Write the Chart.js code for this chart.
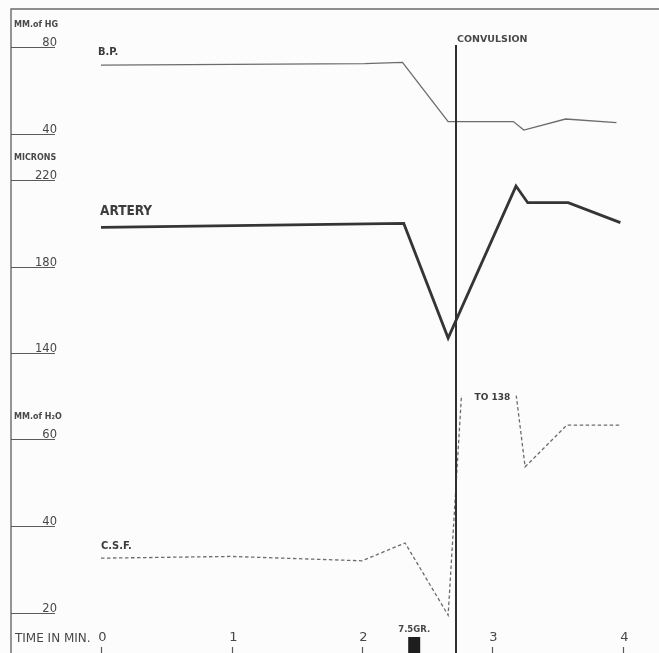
<!DOCTYPE html>
<html>
<head>
<meta charset="utf-8">
<script src="https://cdn.jsdelivr.net/npm/chart.js@4.4.1/dist/chart.umd.min.js"></script>
<style>
  html, body { margin: 0; padding: 0; background: #fcfcfc; }
  canvas { display: block; }
</style>
</head>
<body>
<canvas id="chart" width="659" height="653"></canvas>
<script>
// Blood pressure, mm Hg, against time in minutes
const bpTimes  = [0, 2.02, 2.31, 2.66, 3.16, 3.24, 3.56, 3.95];
const bpValues = [71.7, 72.4, 72.9, 45.7, 45.7, 41.8, 46.9, 45.2];

// Artery diameter, microns
const arteryTimes  = [0, 2.32, 2.66, 3.18, 3.27, 3.58, 3.98];
const arteryValues = [198.1, 199.9, 146.9, 217.2, 209.5, 209.5, 200.3];

// Cerebrospinal fluid pressure, mm H2O
const csfTimes  = [0, 1.0, 2.0, 2.33, 2.66, 2.9, 3.25, 3.57, 3.99];
const csfValues = [32.6, 33.0, 32.0, 36.1, 19.5, 138, 53.6, 63.2, 63.2];

// Scale marks
const bpTicks     = [80, 40];
const micronTicks = [220, 180, 140];
const csfTicks    = [60, 40, 20];
const timeTicks   = [0, 1, 2, 3, 4];

// CSF trace is cut off above this value
const csfDisplayMax = 70;

// Events
const convulsionTime = 2.72;
const doseTime = 2.40;
const doseLabel = '7.5GR.';

const ink = '#484848';
const plain = '"DejaVu Sans", sans-serif';
const narrow = '"DejaVu Sans Condensed", "DejaVu Sans", sans-serif';

const toPoints = (xs, ys) => xs.map((x, i) => ({ x, y: ys[i] }));

const decorations = {
  id: 'decorations',
  beforeDraw(chart) {
    const { ctx, width, height } = chart;
    ctx.save();
    ctx.fillStyle = '#fcfcfc';
    ctx.fillRect(0, 0, width, height);
    ctx.restore();
  },
  beforeDatasetDraw(chart, args) {
    if (args.meta.yAxisID !== 'yCsf') return;
    const { ctx, chartArea: a } = chart;
    const top = chart.scales.yCsf.getPixelForValue(csfDisplayMax);
    ctx.save();
    ctx.beginPath();
    ctx.rect(a.left, top, a.right - a.left, a.bottom - top);
    ctx.clip();
  },
  afterDatasetDraw(chart, args) {
    if (args.meta.yAxisID !== 'yCsf') return;
    chart.ctx.restore();
  },
  afterDraw(chart) {
    const { ctx, chartArea: a, scales } = chart;
    const xs = scales.x;
    ctx.save();

    // frame: left axis and top rule
    ctx.strokeStyle = '#6a6a6a';
    ctx.lineWidth = 1.4;
    ctx.beginPath();
    ctx.moveTo(a.left, a.bottom);
    ctx.lineTo(a.left, a.top);
    ctx.lineTo(a.right, a.top);
    ctx.stroke();

    // stacked left scales
    const groups = [
      { id: 'yBp', ticks: bpTicks, unit: 'MM.of HG' },
      { id: 'yMicron', ticks: micronTicks, unit: 'MICRONS' },
      { id: 'yCsf', ticks: csfTicks, unit: 'MM.of H\u2082O' }
    ];
    groups.forEach(g => {
      const s = scales[g.id];
      g.ticks.forEach(v => {
        const y = Math.round(s.getPixelForValue(v)) + 0.5;
        ctx.strokeStyle = '#5a5a5a';
        ctx.lineWidth = 1.2;
        ctx.beginPath();
        ctx.moveTo(a.left, y);
        ctx.lineTo(a.left + 44, y);
        ctx.stroke();
        ctx.fillStyle = ink;
        ctx.font = '11.5px ' + plain;
        ctx.textAlign = 'right';
        ctx.textBaseline = 'alphabetic';
        ctx.fillText(String(v), a.left + 46, y - 2);
      });
      const yTop = s.getPixelForValue(g.ticks[0]);
      ctx.fillStyle = ink;
      ctx.font = 'bold 8px ' + plain;
      ctx.textAlign = 'left';
      ctx.textBaseline = 'middle';
      ctx.fillText(g.unit, a.left + 3, yTop - 22);
    });

    // time axis
    ctx.fillStyle = ink;
    ctx.font = '12px ' + plain;
    ctx.textAlign = 'left';
    ctx.textBaseline = 'middle';
    ctx.fillText('TIME IN MIN.', a.left + 4, 639);
    timeTicks.forEach(t => {
      const x = Math.round(xs.getPixelForValue(t)) + 0.5;
      ctx.strokeStyle = '#5a5a5a';
      ctx.lineWidth = 1.2;
      ctx.beginPath();
      ctx.moveTo(x, a.bottom - 6);
      ctx.lineTo(x, a.bottom);
      ctx.stroke();
      ctx.fillStyle = ink;
      ctx.font = '13px ' + plain;
      ctx.textAlign = 'center';
      ctx.fillText(String(t), x + 1, 638);
    });

    // dose marker
    const dx = xs.getPixelForValue(doseTime);
    ctx.fillStyle = '#1e1e1e';
    ctx.fillRect(dx - 6, a.bottom - 16, 12, 16);
    ctx.fillStyle = ink;
    ctx.font = 'bold 8.5px ' + plain;
    ctx.textAlign = 'center';
    ctx.fillText(doseLabel, dx, a.bottom - 23);

    // convulsion line
    const cx = Math.round(xs.getPixelForValue(convulsionTime));
    ctx.strokeStyle = '#303030';
    ctx.lineWidth = 2;
    ctx.beginPath();
    ctx.moveTo(cx, 45);
    ctx.lineTo(cx, a.bottom);
    ctx.stroke();
    ctx.fillStyle = ink;
    ctx.font = 'bold 9.5px ' + plain;
    ctx.textAlign = 'left';
    ctx.fillText('CONVULSION', cx + 1, 40);

    // trace names
    const x0 = xs.getPixelForValue(0);
    ctx.fillStyle = '#3c3c3c';
    ctx.textAlign = 'left';
    ctx.font = 'bold 11px ' + narrow;
    ctx.fillText('B.P.', x0 - 3, scales.yBp.getPixelForValue(bpValues[0]) - 13);
    ctx.font = 'bold 13.5px ' + narrow;
    ctx.fillText('ARTERY', x0 - 1, scales.yMicron.getPixelForValue(arteryValues[0]) - 16);
    ctx.font = 'bold 11px ' + narrow;
    ctx.fillText('C.S.F.', x0, scales.yCsf.getPixelForValue(csfValues[0]) - 12);

    // off-scale CSF peak
    const peak = Math.max(...csfValues);
    const px = xs.getPixelForValue(csfTimes[csfValues.indexOf(peak)]);
    ctx.font = 'bold 9px ' + plain;
    ctx.textAlign = 'center';
    ctx.fillText('TO ' + peak, px + 13, scales.yCsf.getPixelForValue(csfDisplayMax) + 2);

    ctx.restore();
  }
};

new Chart(document.getElementById('chart'), {
  type: 'line',
  data: {
    datasets: [
      {
        label: 'B.P.',
        data: toPoints(bpTimes, bpValues),
        yAxisID: 'yBp',
        borderColor: '#6c6c6c',
        borderWidth: 1.3,
        pointRadius: 0,
        tension: 0
      },
      {
        label: 'ARTERY',
        data: toPoints(arteryTimes, arteryValues),
        yAxisID: 'yMicron',
        borderColor: '#353535',
        borderWidth: 2.8,
        borderJoinStyle: 'miter',
        pointRadius: 0,
        tension: 0
      },
      {
        label: 'C.S.F.',
        data: toPoints(csfTimes, csfValues),
        yAxisID: 'yCsf',
        borderColor: '#6c6c6c',
        borderWidth: 1.3,
        borderDash: [3.5, 2.5],
        pointRadius: 0,
        tension: 0,
        clip: false
      }
    ]
  },
  options: {
    responsive: false,
    animation: false,
    layout: { padding: { top: 9, left: 11, right: 0, bottom: 0 } },
    plugins: { legend: { display: false }, tooltip: { enabled: false } },
    scales: {
      x: { type: 'linear', display: false, min: -0.6897, max: 4.2759 },
      yBp: { type: 'linear', display: false, min: -198.6, max: 97.47 },
      yMicron: { type: 'linear', display: false, min: 1.27, max: 299.08 },
      yCsf: { type: 'linear', display: false, min: 10.8, max: 158.85 }
    }
  },
  plugins: [decorations]
});
</script>
</body>
</html>
